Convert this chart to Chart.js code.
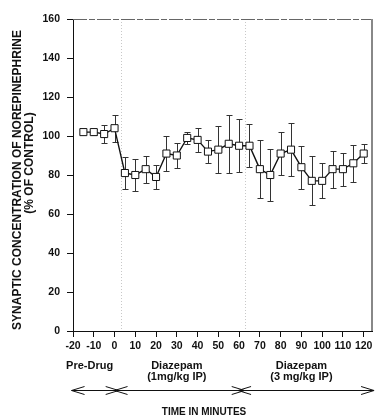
<!DOCTYPE html>
<html>
<head>
<meta charset="utf-8">
<script src="https://cdn.jsdelivr.net/npm/chart.js@4.4.0/dist/chart.umd.min.js"></script>
<style>
  html, body { margin: 0; padding: 0; background: #fff; }
</style>
</head>
<body>
<canvas id="grafico" width="378" height="417"></canvas>
<script>
// Tiempo (min) y concentración sináptica de noradrenalina (% del control) con su error
const minutos = [-15, -10, -5, 0, 5, 10, 15, 20, 25, 30, 35, 40, 45, 50,
  55, 60, 65, 70, 75, 80, 85, 90, 95, 100, 105, 110, 115, 120];
const medias = [102, 102, 101, 104, 81, 80, 83, 79, 91, 90, 99, 98, 92, 93,
  96, 95, 95, 83, 80, 91, 93, 84, 77, 77, 83, 83, 86, 91];
const errores = [1, 1.5, 4.5, 7, 8, 8, 7, 6, 9, 6.5, 3, 6, 6, 12,
  15, 13.5, 11, 15, 13.5, 11, 13.5, 11, 12.5, 9, 9.5, 8.5, 9.5, 5];

const ticksX = [-20, -10, 0, 10, 20, 30, 40, 50, 60, 70, 80, 90, 100, 110, 120];
const ticksY = [0, 20, 40, 60, 80, 100, 120, 140, 160];

// momentos de inyección (líneas punteadas)
const inyecciones = [3, 63];

// fases del experimento: texto, centro del texto y extremos de la flecha (min)
const faseTextos = [["Pre-Drug"], ["Diazepam", "(1mg/kg IP)"], ["Diazepam", "(3 mg/kg IP)"]];
const faseCentros = [-12, 30, 90];
const faseInicio = [-20.7, 0, 59.5];
const faseFin = [2, 62.7, 125];

const negrita = (px) => `bold ${px}px "Liberation Sans", Arial, sans-serif`;

const extras = {
  id: "extras",
  beforeDatasetsDraw(chart) {
    const { ctx, chartArea: a, scales: { x, y } } = chart;
    ctx.save();

    // líneas punteadas de inyección
    ctx.strokeStyle = "#c8c8c8";
    ctx.lineWidth = 1;
    ctx.setLineDash([1, 2]);
    inyecciones.forEach(m => {
      const px = Math.round(x.getPixelForValue(m)) + 0.5;
      ctx.beginPath();
      ctx.moveTo(px, a.top);
      ctx.lineTo(px, a.bottom);
      ctx.stroke();
    });

    // marco superior (discontinuo) y derecho
    ctx.strokeStyle = "#666";
    ctx.setLineDash([14, 2, 6, 2]);
    ctx.beginPath();
    ctx.moveTo(a.left, a.top + 0.5);
    ctx.lineTo(a.right, a.top + 0.5);
    ctx.stroke();
    ctx.setLineDash([]);
    ctx.strokeStyle = "#888";
    ctx.lineWidth = 2;
    ctx.beginPath();
    ctx.moveTo(a.right, a.top);
    ctx.lineTo(a.right, a.bottom);
    ctx.stroke();

    // barras de error
    ctx.strokeStyle = "#333";
    ctx.lineWidth = 1;
    minutos.forEach((m, i) => {
      const px = Math.round(x.getPixelForValue(m)) + 0.5;
      const arriba = Math.round(y.getPixelForValue(medias[i] + errores[i])) + 0.5;
      const abajo = Math.round(y.getPixelForValue(medias[i] - errores[i])) + 0.5;
      ctx.beginPath();
      ctx.moveTo(px, arriba);
      ctx.lineTo(px, abajo);
      ctx.moveTo(px - 3, arriba);
      ctx.lineTo(px + 3, arriba);
      ctx.moveTo(px - 3, abajo);
      ctx.lineTo(px + 3, abajo);
      ctx.stroke();
    });
    ctx.restore();
  },
  afterDraw(chart) {
    const { ctx, scales: { x } } = chart;
    ctx.save();
    ctx.fillStyle = "#111";
    ctx.textAlign = "center";
    ctx.textBaseline = "middle";

    // título del eje Y en dos líneas
    ctx.save();
    ctx.translate(18, 180);
    ctx.rotate(-Math.PI / 2);
    ctx.font = negrita(12);
    ctx.fillText("SYNAPTIC CONCENTRATION OF NOREPINEPHRINE", 0, 0);
    ctx.restore();
    ctx.save();
    ctx.translate(30, 163);
    ctx.rotate(-Math.PI / 2);
    ctx.font = negrita(12);
    ctx.fillText("(% OF CONTROL)", 0, 0);
    ctx.restore();

    // nombres de las fases
    ctx.font = negrita(11);
    faseTextos.forEach((lineas, i) => {
      const cx = x.getPixelForValue(faseCentros[i]);
      lineas.forEach((t, j) => ctx.fillText(t, cx, 366 + j * 11));
    });

    // flechas de doble punta de cada fase
    ctx.strokeStyle = "#111";
    ctx.lineWidth = 1;
    const yf = 390.5;
    faseInicio.forEach((ini, i) => {
      const x1 = x.getPixelForValue(ini);
      const x2 = x.getPixelForValue(faseFin[i]);
      ctx.beginPath();
      ctx.moveTo(x1, yf);
      ctx.lineTo(x2, yf);
      ctx.moveTo(x1 + 13, yf - 4);
      ctx.lineTo(x1, yf);
      ctx.lineTo(x1 + 13, yf + 4);
      ctx.moveTo(x2 - 13, yf - 4);
      ctx.lineTo(x2, yf);
      ctx.lineTo(x2 - 13, yf + 4);
      ctx.stroke();
    });

    ctx.font = negrita(10);
    ctx.fillText("TIME IN MINUTES", 204, 412);
    ctx.restore();
  }
};

new Chart(document.getElementById("grafico"), {
  type: "line",
  data: {
    datasets: [{
      data: minutos.map((m, i) => ({ x: m, y: medias[i] })),
      borderColor: "#111",
      borderWidth: 1.4,
      pointStyle: "rect",
      pointRadius: 5,
      pointBorderWidth: 1,
      pointBorderColor: "#111",
      pointBackgroundColor: "#fff",
      tension: 0
    }]
  },
  options: {
    responsive: false,
    devicePixelRatio: 1,
    animation: false,
    layout: { padding: { top: 19, right: 3, left: 0, bottom: 0 } },
    plugins: { legend: { display: false }, tooltip: { enabled: false } },
    scales: {
      x: {
        type: "linear",
        min: -20,
        max: 124,
        afterBuildTicks: s => { s.ticks = ticksX.map(v => ({ value: v })); },
        afterFit: s => { s.height = 86; },
        grid: { drawOnChartArea: false, drawTicks: true, tickLength: 6, color: "#111" },
        border: { display: true, color: "#111", width: 1 },
        ticks: {
          autoSkip: false,
          maxRotation: 0,
          padding: 3,
          color: "#111",
          font: { family: '"Liberation Sans", Arial, sans-serif', weight: "bold", size: 10.5 }
        }
      },
      y: {
        min: 0,
        max: 160,
        afterBuildTicks: s => { s.ticks = ticksY.map(v => ({ value: v })); },
        afterFit: s => { s.width = 73; },
        grid: { drawOnChartArea: false, drawTicks: true, tickLength: 6, color: "#111" },
        border: { display: true, color: "#111", width: 1 },
        ticks: {
          padding: 7,
          color: "#111",
          font: { family: '"Liberation Sans", Arial, sans-serif', weight: "bold", size: 10.5 }
        }
      }
    }
  },
  plugins: [extras]
});
</script>
</body>
</html>
